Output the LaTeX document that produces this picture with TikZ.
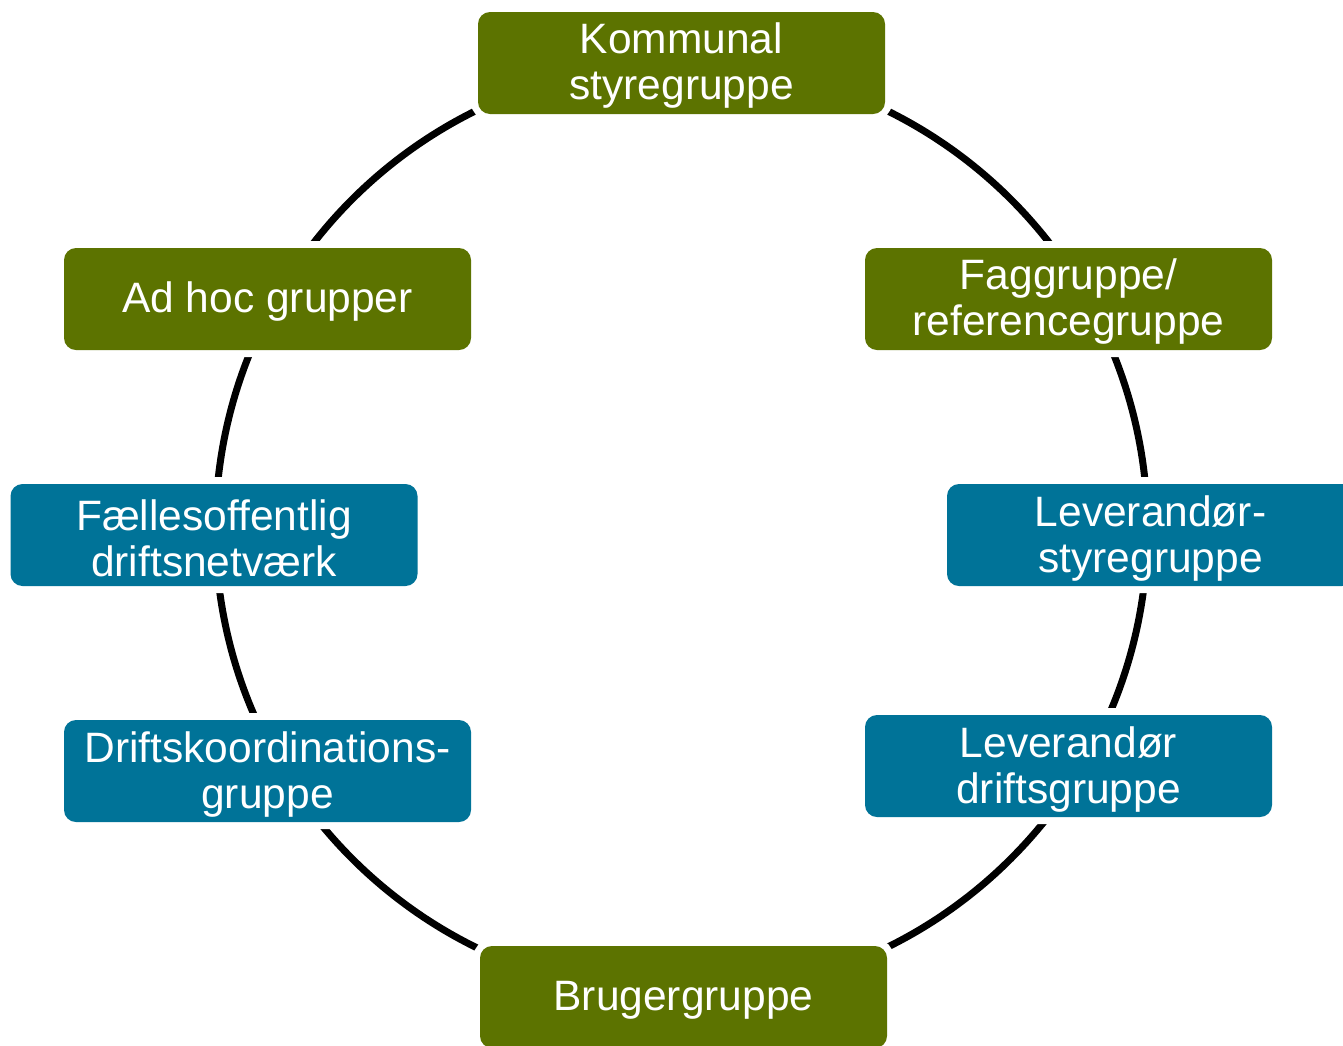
\documentclass[tikz,border=0pt]{standalone}
\usepackage{fontspec}
\setmainfont{Liberation Sans}
\definecolor{boxgreen}{HTML}{5C7300}
\definecolor{boxblue}{HTML}{007398}
\begin{document}
\begin{tikzpicture}[x=1pt,y=-1pt,
  grp/.style={rectangle, rounded corners=12pt, minimum width=407pt, minimum height=102pt,
    inner sep=0pt, preaction={draw=white, line width=14pt}},
  greenbox/.style={grp, fill=boxgreen},
  bluebox/.style={grp, fill=boxblue},
  txt/.style={inner sep=0pt, text=white, align=center, font=\fontsize{42.5}{46}\selectfont},
  ring/.style={draw=black, line width=7pt}]
\useasboundingbox (0,0) rectangle (1343,1045);
\clip (0,0) rectangle (1343,1045);
\fill[white] (0,0) rectangle (1343,1045);
\coordinate (ctr) at (681.5,529);
\draw[ring] (ctr) circle[radius=466];
\node[greenbox] (kom) at (681.5,63) {};
\node[greenbox] (fag) at (1068.5,299) {};
\node[bluebox] (levs) at (1150.5,535) {};
\node[bluebox] (levd) at (1068.5,766) {};
\node[greenbox] (bru) at (683.5,997) {};
\node[bluebox] (dko) at (267.5,771) {};
\node[bluebox] (fael) at (214,535) {};
\node[greenbox] (adh) at (267.5,299) {};
\node[txt] (kom-t) at ([yshift=-3pt]kom.center) {Kommunal\\styregruppe};
\node[txt] (fag-t) at ([yshift=-3pt]fag.center) {Faggruppe/\\referencegruppe};
\node[txt] (levs-t) at ([yshift=-3pt]levs.center) {Leverandør-\\styregruppe};
\node[txt] (levd-t) at ([yshift=-3pt]levd.center) {Leverandør\\driftsgruppe};
\node[txt] (bru-t) at ([yshift=-3pt]bru.center) {Brugergruppe};
\node[txt] (dko-t) at ([yshift=-3pt]dko.center) {Driftskoordinations-\\gruppe};
\node[txt] (fael-t) at ([yshift=-3pt]fael.center) {Fællesoffentlig\\driftsnetværk};
\node[txt] (adh-t) at ([yshift=-3pt]adh.center) {Ad hoc grupper};
\end{tikzpicture}
\end{document}
